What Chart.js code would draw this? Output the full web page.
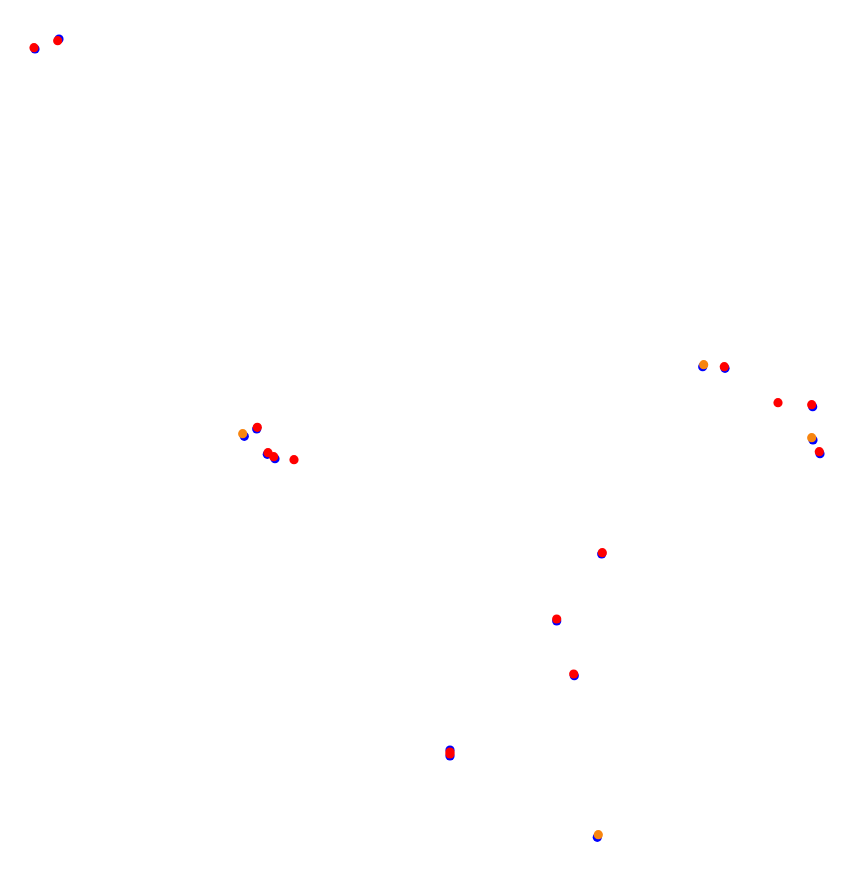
<!DOCTYPE html>
<html>
<head>
<meta charset="utf-8">
<script src="https://cdn.jsdelivr.net/npm/chart.js@4"></script>
<style>
  html, body { margin: 0; padding: 0; background: #fff; }
  #wrap { width: 868px; height: 872px; position: relative; }
</style>
</head>
<body>
<div id="wrap"><canvas id="chart"></canvas></div>
<script>
// positions, in plot units (x: 0..868, y: 0..872 downward)
const blueX = [35, 59, 244.3, 256.7, 267.3, 275, 702.7, 725, 812.7, 813, 820, 601.7, 556.7, 574.3, 450, 450, 597.3];
const blueY = [49, 39, 436.3, 429, 454.3, 458.7, 366.7, 368.3, 406.7, 440, 453.7, 554, 621, 675.7, 750, 756, 837.3];

const orangeX = [242.7, 703.7, 811.7, 598.3];
const orangeY = [433.7, 364.7, 437.7, 834.7];

const redX = [34, 57.7, 257.3, 268, 273.7, 294, 724.3, 778, 811.7, 819.3, 602.3, 556.7, 573.7, 450, 450];
const redY = [47.7, 40.7, 427.3, 452.7, 456.7, 459.7, 366.7, 402.7, 404.7, 451.7, 552.7, 619, 674, 752, 754];

const pts = (xs, ys) => xs.map((x, i) => ({ x, y: ys[i] }));

// order: higher numbers are painted first, so blue sits underneath
const series = [
  { label: "blue", data: pts(blueX, blueY), color: "#0000ff", order: 3 },
  { label: "orange", data: pts(orangeX, orangeY), color: "#f7850f", order: 2 },
  { label: "red", data: pts(redX, redY), color: "#ff0000", order: 1 }
];

new Chart(document.getElementById("chart"), {
  type: "scatter",
  data: {
    datasets: series.map(s => ({
      label: s.label,
      data: s.data,
      order: s.order,
      backgroundColor: s.color,
      borderColor: s.color,
      borderWidth: 0,
      pointRadius: 4.6,
      pointHoverRadius: 4.6
    }))
  },
  options: {
    responsive: true,
    maintainAspectRatio: false,
    animation: false,
    layout: { padding: 0, autoPadding: false },
    plugins: { legend: { display: false }, tooltip: { enabled: false } },
    scales: {
      x: { type: "linear", min: 0, max: 868, display: false },
      y: { type: "linear", min: 0, max: 872, reverse: true, display: false }
    }
  }
});
</script>
</body>
</html>
